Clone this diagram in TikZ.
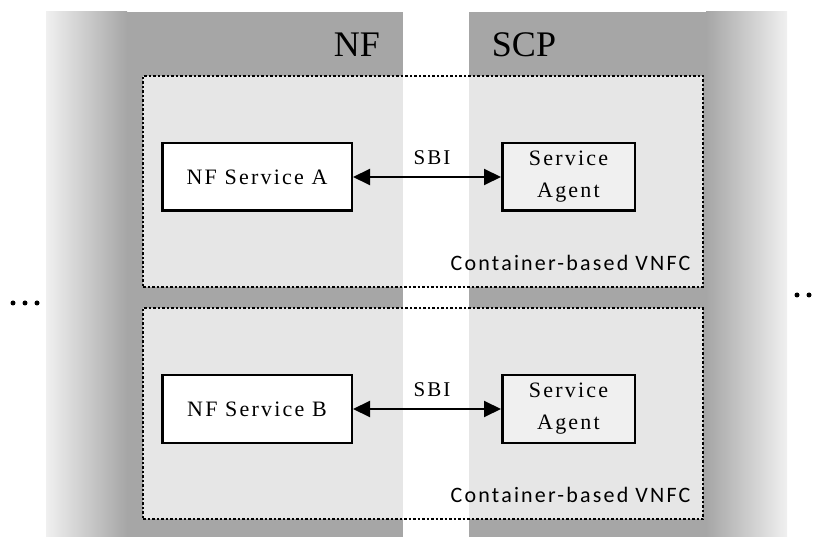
\documentclass[tikz,border=0pt]{standalone}
\usepackage{fontspec}
\setmainfont{Liberation Serif}
\newfontfamily\boxfont[LetterSpace=10]{Liberation Serif}
\newfontfamily\vnfcfont[LetterSpace=10]{Carlito}
\usetikzlibrary{arrows.meta, positioning}
\definecolor{nfgray}{HTML}{A6A6A6}
\definecolor{fadegray}{HTML}{F0F0F0}
\definecolor{agentfill}{HTML}{F0F0F0}

\begin{document}
\begin{tikzpicture}[
      x=1pt, y=-1pt,
      node distance=148pt,
      column/.style={fill=nfgray},
      vnfc/.style={rectangle, draw, line width=1.3pt, dash pattern=on 2.5pt off 2pt, fill=white, fill opacity=0.72, minimum width=560pt, minimum height=211pt},
      vnfclabel/.style={anchor=base east, inner sep=0pt, font=\vnfcfont\fontsize{22}{26}\selectfont},
      title/.style={anchor=base, inner sep=0pt, font=\fontsize{36}{40}\selectfont},
      service/.style={rectangle, draw, line width=2.5pt, fill=white, minimum width=189.5pt, minimum height=67.5pt, font=\boxfont\fontsize{22}{32}\selectfont},
      agent/.style={service, fill=agentfill, minimum width=132.5pt, align=center},
      sbi/.style={{Triangle[length=17pt,width=16pt]}-{Triangle[length=17pt,width=16pt]}, line width=2pt},
      sbilabel/.style={above=8pt, xshift=5pt, font=\boxfont\fontsize{21}{25}\selectfont}
    ]
    \useasboundingbox (0,0) rectangle (817,537);

    \shade[left color=fadegray, right color=nfgray] (46,12) rectangle (127,537);
    \fill[column] (127,12) rectangle (403,537);
    \fill[column] (469,12) rectangle (706,537);
    \shade[left color=nfgray, right color=fadegray] (706,12) rectangle (787,537);

    \node[title] (nftitle) at (357,57) {NF};
    \node[title] (scptitle) at (524,57) {SCP};

    \node[vnfc] (vnfca) at (423,181.5) {};
    \node[vnfc] (vnfcb) at (423,413.5) {};
    \node[vnfclabel] (vnfcalabel) at ([xshift=-13pt, yshift=17pt]vnfca.south east) {Container-based VNFC};
    \node[vnfclabel] (vnfcblabel) at ([xshift=-13pt, yshift=17pt]vnfcb.south east) {Container-based VNFC};

    \node[service] (nfa) at (257,177) {NF Service A};
    \node[agent, right=of nfa] (agenta) {Service\\Agent};
    \node[service] (nfb) at (257,409) {NF Service B};
    \node[agent, right=of nfb] (agentb) {Service\\Agent};

    \draw[sbi] (nfa.east) -- node[sbilabel] {SBI} (agenta.west);
    \draw[sbi] (nfb.east) -- node[sbilabel] {SBI} (agentb.west);

    \foreach \x in {13,25,37} \fill (\x,303) circle (2.5);
    \foreach \x in {797,809} \fill (\x,295) circle (2.5);
  \end{tikzpicture}
\end{document}
